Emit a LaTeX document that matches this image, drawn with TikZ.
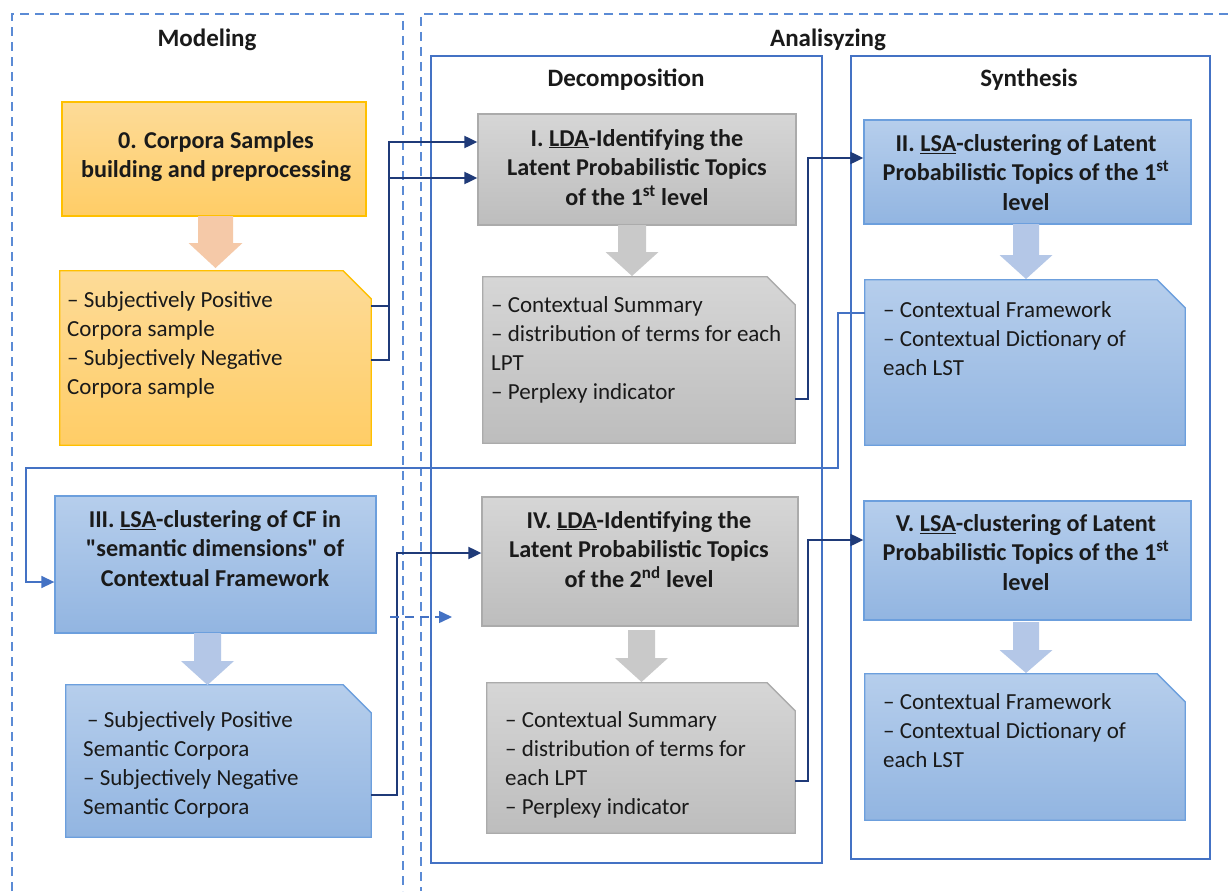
\documentclass[tikz,border=0pt]{standalone}
\usepackage{fontspec}
\setmainfont{Carlito}[Ligatures=TeXOff]
\usetikzlibrary{arrows.meta,calc}
\definecolor{dashblue}{HTML}{5B8BD5}
\definecolor{frameblue}{HTML}{4472C4}
\definecolor{navy}{HTML}{1F3A78}
\definecolor{otop}{HTML}{FDDB98}
\definecolor{obot}{HTML}{FFCD66}
\definecolor{oline}{HTML}{FFC000}
\definecolor{oarrow}{HTML}{F5C9A8}
\definecolor{gtop}{HTML}{D6D6D6}
\definecolor{gbot}{HTML}{BDBDBD}
\definecolor{gline}{HTML}{ABABAB}
\definecolor{garrow}{HTML}{C9C9C9}
\definecolor{btop}{HTML}{B6CEEC}
\definecolor{bbot}{HTML}{92B5E1}
\definecolor{bline}{HTML}{6C9FDD}
\definecolor{barrow}{HTML}{B4C7E7}
\definecolor{ink}{HTML}{1A1A1A}
\tikzset{
 dframe/.style={draw=dashblue, line width=1.5pt, dash pattern=on 9pt off 6pt},
 sframe/.style={draw=frameblue, line width=1.5pt},
 plainbox/.style={rectangle, inner sep=0pt, line width=1.3pt},
 obox/.style={plainbox, draw=oline, top color=otop, bottom color=obot},
 gbox/.style={plainbox, draw=gline, top color=gtop, bottom color=gbot},
 bbox/.style={plainbox, draw=bline, top color=btop, bottom color=bbot},
 docshell/.style={rectangle, inner sep=0pt, draw=none},
 odoc/.style={draw=oline, line width=1.3pt, top color=otop, bottom color=obot},
 gdoc/.style={draw=gline, line width=1.3pt, top color=gtop, bottom color=gbot},
 bdoc/.style={draw=bline, line width=1.3pt, top color=btop, bottom color=bbot},
 heading/.style={font=\fontsize{25}{30}\selectfont\bfseries, text=ink, inner sep=0pt},
 ttl/.style={font=\fontsize{24.2}{29.5}\selectfont\bfseries, align=center, anchor=north, inner sep=0pt, text=ink},
 bodytext/.style={font=\fontsize{23}{29}\selectfont, align=left, anchor=north west, inner sep=0pt, text=ink},
 conn/.style={draw=navy, line width=2pt, -{Triangle[length=13pt,width=12pt]}},
 fback/.style={draw=frameblue, line width=1.5pt, -{Triangle[length=13pt,width=12pt]}},
 dconn/.style={draw=frameblue, line width=1.5pt, dash pattern=on 9pt off 6pt, -{Triangle[length=13pt,width=12pt]}},
}
\newcommand\docpath[2]{\path[#2] (#1.north west) -- ($(#1.north east)+(-28,0)$) -- ($(#1.north east)+(0,28)$) -- (#1.south east) -- (#1.south west) -- cycle;}
\newcommand\blockarr[7]{\fill[#1] ({#2-#6},#3) -- ({#2+#6},#3) -- ({#2+#6},#4) -- ({#2+#7},#4) -- (#2,#5) -- ({#2-#7},#4) -- ({#2-#6},#4) -- cycle;}
\begin{document}
\begin{tikzpicture}[x=1pt,y=-1pt]
\useasboundingbox (0,0) rectangle (1228,891);
\fill[white] (0,0) rectangle (1228,891);
% outer dashed groups
\draw[dframe] (12,891) -- (12,14) -- (403,14) -- (403,891);
\draw[dframe] (1228,14) -- (421,14) -- (421,891);
\draw[sframe] (431,56) rectangle (822,863);
\draw[sframe] (851,56) rectangle (1210,859);
\node[heading] (hmod) at (207,40) {Modeling};
\node[heading] (hana) at (828,40) {Analisyzing};
\node[heading] (hdec) at (626,80) {Decomposition};
\node[heading] (hsyn) at (1029,80) {Synthesis};
% boxes
\node[obox, minimum width=304pt, minimum height=114pt] (b0) at (214,159) {};
\node[gbox, minimum width=318pt, minimum height=111pt] (b1) at (637,169.5) {};
\node[bbox, minimum width=327pt, minimum height=104pt] (b2) at (1027.5,172) {};
\node[bbox, minimum width=321pt, minimum height=137pt] (b3) at (215.5,564.5) {};
\node[gbox, minimum width=316pt, minimum height=129pt] (b4) at (640,561.5) {};
\node[bbox, minimum width=327pt, minimum height=119pt] (b5) at (1027.5,560.5) {};
% document shapes
\node[docshell, minimum width=311pt, minimum height=174pt] (d0) at (215.5,358) {};
\node[docshell, minimum width=312pt, minimum height=166pt] (d1) at (639,360) {};
\node[docshell, minimum width=320pt, minimum height=165pt] (d2) at (1025,362.5) {};
\node[docshell, minimum width=305pt, minimum height=152pt] (d3) at (218.5,761) {};
\node[docshell, minimum width=308pt, minimum height=150pt] (d4) at (641,758) {};
\node[docshell, minimum width=320pt, minimum height=146pt] (d5) at (1025,747) {};
\docpath{d0}{odoc}
\docpath{d1}{gdoc}
\docpath{d2}{bdoc}
\docpath{d3}{bdoc}
\docpath{d4}{gdoc}
\docpath{d5}{bdoc}
% block arrows
\blockarr{oarrow}{215.5}{216}{243}{268}{17.5}{27}
\blockarr{garrow}{632}{225}{252}{276}{14}{26.5}
\blockarr{barrow}{1026}{224}{255}{279}{13}{26.5}
\blockarr{barrow}{207.5}{633}{661}{685}{13.5}{26.5}
\blockarr{garrow}{641.5}{630}{658}{682}{13.5}{26.5}
\blockarr{barrow}{1026}{622}{650}{673}{13}{26.5}
% titles
\node[ttl] (t0) at (216,131) {0. Corpora Samples\\building and preprocessing};
\node[ttl] (t1) at (637,129) {I. \underline{LDA}-Identifying the\\Latent Probabilistic Topics\\of the 1\textsuperscript{st} level};
\node[ttl] (t2) at (1026,134) {II. \underline{LSA}-clustering of Latent\\Probabilistic Topics of the 1\textsuperscript{st}\\level};
\node[ttl] (t3) at (215,510) {III. \underline{LSA}-clustering of CF in\\"semantic dimensions" of\\Contextual Framework};
\node[ttl] (t4) at (639,511) {IV. \underline{LDA}-Identifying the\\Latent Probabilistic Topics\\of the 2\textsuperscript{nd} level};
\node[ttl] (t5) at (1026,514) {V. \underline{LSA}-clustering of Latent\\Probabilistic Topics of the 1\textsuperscript{st}\\level};
% doc texts
\node[bodytext] (x0) at (67,291) {– Subjectively Positive\\Corpora sample\\– Subjectively Negative\\Corpora sample};
\node[bodytext] (x1) at (491,296) {– Contextual Summary\\– distribution of terms for each\\LPT\\– Perplexy indicator};
\node[bodytext] (x2) at (883,301) {– Contextual Framework\\– Contextual Dictionary of\\each LST};
\node[bodytext] (x3) at (83,711) {\hspace*{4pt}– Subjectively Positive\\Semantic Corpora\\– Subjectively Negative\\Semantic Corpora};
\node[bodytext] (x4) at (505,711) {– Contextual Summary\\– distribution of terms for\\each LPT\\– Perplexy indicator};
\node[bodytext] (x5) at (883,693) {– Contextual Framework\\– Contextual Dictionary of\\each LST};
% connectors
\draw[conn] (d0.east |- 0,306) -- (389,306) |- ([yshift=27.5pt]b1.west);
\draw[conn] (d0.east |- 0,360) -- (389,360) |- ([yshift=-8.5pt]b1.west);
\draw[conn] (d1.east |- 0,399) -- (808,399) |- ([yshift=14pt]b2.west);
\draw[conn] (d3.east |- 0,795) -- (397,795) |- ([yshift=8.5pt]b4.west);
\draw[conn] (d4.east |- 0,781) -- (808,781) |- ([yshift=20.5pt]b5.west);
\draw[fback] (d2.west |- 0,313) -- (838,313) -- (838,468) -- (26,468) |- ([yshift=-17.5pt]b3.west);
\coordinate (dA) at (390,617);
\coordinate (dB) at (452,617);
\draw[dconn] (dA) -- (dB);
\end{tikzpicture}
\end{document}
